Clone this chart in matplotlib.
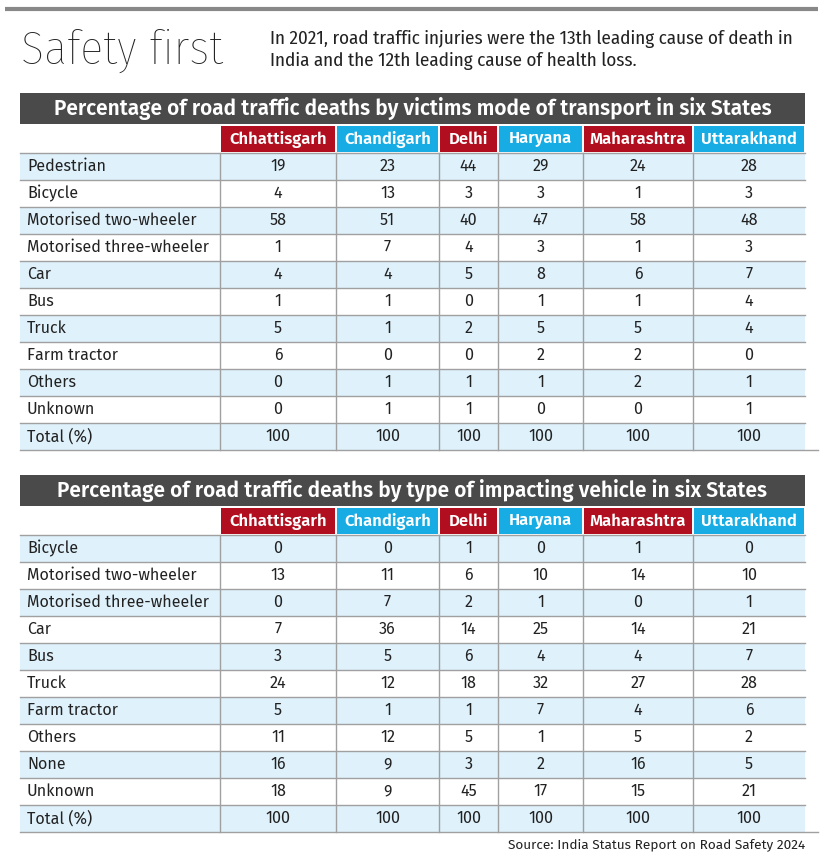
import matplotlib
matplotlib.use("Agg")
import matplotlib.pyplot as plt
from matplotlib import font_manager
from matplotlib.patches import Rectangle

# Data
states = ["Chhattisgarh", "Chandigarh", "Delhi", "Haryana", "Maharashtra", "Uttarakhand"]
state_colors = ["#b10f1f", "#17ade4", "#b10f1f", "#17ade4", "#b10f1f", "#17ade4"]

victim_modes = ["Pedestrian", "Bicycle", "Motorised two-wheeler", "Motorised three-wheeler",
                "Car", "Bus", "Truck", "Farm tractor", "Others", "Unknown", "Total (%)"]
victim_values = [
    [19, 23, 44, 29, 24, 28],
    [4, 13, 3, 3, 1, 3],
    [58, 51, 40, 47, 58, 48],
    [1, 7, 4, 3, 1, 3],
    [4, 4, 5, 8, 6, 7],
    [1, 1, 0, 1, 1, 4],
    [5, 1, 2, 5, 5, 4],
    [6, 0, 0, 2, 2, 0],
    [0, 1, 1, 1, 2, 1],
    [0, 1, 1, 0, 0, 1],
    [100, 100, 100, 100, 100, 100],
]

impact_types = ["Bicycle", "Motorised two-wheeler", "Motorised three-wheeler", "Car", "Bus",
                "Truck", "Farm tractor", "Others", "None", "Unknown", "Total (%)"]
impact_values = [
    [0, 0, 1, 0, 1, 0],
    [13, 11, 6, 10, 14, 10],
    [0, 7, 2, 1, 0, 1],
    [7, 36, 14, 25, 14, 21],
    [3, 5, 6, 4, 4, 7],
    [24, 12, 18, 32, 27, 28],
    [5, 1, 1, 7, 4, 6],
    [11, 12, 5, 1, 5, 2],
    [16, 9, 3, 2, 16, 5],
    [18, 9, 45, 17, 15, 21],
    [100, 100, 100, 100, 100, 100],
]

title = "Safety first"
subtitle = ("In 2021, road traffic injuries were the 13th leading cause of death in\n"
            "India and the 12th leading cause of health loss.")
table1_title = "Percentage of road traffic deaths by victims mode of transport in six States"
table2_title = "Percentage of road traffic deaths by type of impacting vehicle in six States"
source = "Source: India Status Report on Road Safety 2024"

# fonts: pick the closest installed family
_fonts = {}
for f in font_manager.fontManager.ttflist:
    _fonts.setdefault(f.name, set()).add(f.weight if isinstance(f.weight, int) else 400)


def pick(candidates, weight=400):
    for name in candidates:
        if name in _fonts and any(abs(w - weight) <= 100 for w in _fonts[name]):
            return [name, "DejaVu Sans"]
    return ["DejaVu Sans"]


FONT = pick(["Fira Sans", "Source Sans 3", "Noto Sans"])
FONT_BOLD = pick(["Fira Sans", "Source Sans 3", "Open Sans", "Roboto", "Lato"], 600)
FONT_COND = pick(["Fira Sans Condensed", "Source Sans 3", "Roboto Condensed", "Roboto"])
FONT_LIGHT = pick(["Fira Sans Condensed", "Fira Sans Extra Condensed", "Roboto Condensed", "Roboto"], 300)

# Layout (pixels)
W, H = 824, 861
COL_EDGES = [20, 220, 336, 439, 498, 583, 693, 805]
ROW_H = 27
DARK = "#4a4a4a"
SHADE = "#dff1fb"
GRID = "#a0a0a0"
TXT = "#222222"

fig = plt.figure(figsize=(W / 100, H / 100), dpi=100)
ax = fig.add_axes([0, 0, 1, 1])
ax.set_xlim(0, W)
ax.set_ylim(H, 0)
ax.axis("off")


def draw_table(top, heading, rows, values):
    left, right = COL_EDGES[0], COL_EDGES[-1]
    # title bar
    ax.add_patch(Rectangle((left, top), right - left, 31, color=DARK, lw=0))
    ax.text((left + right) / 2, top + 16, heading, color="white", fontsize=15,
            fontweight="semibold", ha="center", va="center", family=FONT_BOLD)
    # state header row
    hy = top + 33
    for j, (name, col) in enumerate(zip(states, state_colors)):
        x0, x1 = COL_EDGES[j + 1], COL_EDGES[j + 2]
        ax.add_patch(Rectangle((x0 + 1, hy), x1 - x0 - 2, ROW_H - 1, color=col, lw=0))
        ax.text((x0 + x1) / 2, hy + ROW_H / 2, name, color="white", fontsize=12,
                fontweight="semibold", ha="center", va="center", family=FONT_BOLD)
    body = hy + ROW_H
    ax.plot([left, right], [body, body], color=GRID, lw=1)
    for i, (label, vals) in enumerate(zip(rows, values)):
        y0 = body + i * ROW_H
        if i % 2 == 0:
            ax.add_patch(Rectangle((left, y0), right - left, ROW_H, color=SHADE, lw=0))
        ax.text(left + 7, y0 + ROW_H / 2, label, fontsize=11.6, color=TXT,
                ha="left", va="center", family=FONT)
        for j, v in enumerate(vals):
            xc = (COL_EDGES[j + 1] + COL_EDGES[j + 2]) / 2
            ax.text(xc, y0 + ROW_H / 2, str(v), fontsize=11.6, color=TXT,
                    ha="center", va="center", family=FONT)
        line_end = right + 13 if i == len(rows) - 1 else right
        ax.plot([left, line_end], [y0 + ROW_H, y0 + ROW_H], color=GRID, lw=1)
    bottom = body + len(rows) * ROW_H
    for x in COL_EDGES[1:-1]:
        ax.plot([x, x], [body, bottom], color=GRID, lw=1)
    return bottom


# top rule
ax.plot([5, 818], [8.5, 8.5], color="#888888", lw=3, solid_capstyle="butt")
ax.text(21, 51, title, fontsize=34.5, fontweight="light", color=TXT,
        ha="left", va="center", family=FONT_LIGHT)
ax.text(270, 50, subtitle, fontsize=13.7, color=TXT, ha="left", va="center",
        linespacing=1.22, family=FONT_COND)

draw_table(93, table1_title, victim_modes, victim_values)
draw_table(475, table2_title, impact_types, impact_values)

ax.text(805, 845, source, fontsize=9.8, color=TXT, ha="right", va="center",
        family=FONT)

fig.savefig("out.png", dpi=100, facecolor="white")
